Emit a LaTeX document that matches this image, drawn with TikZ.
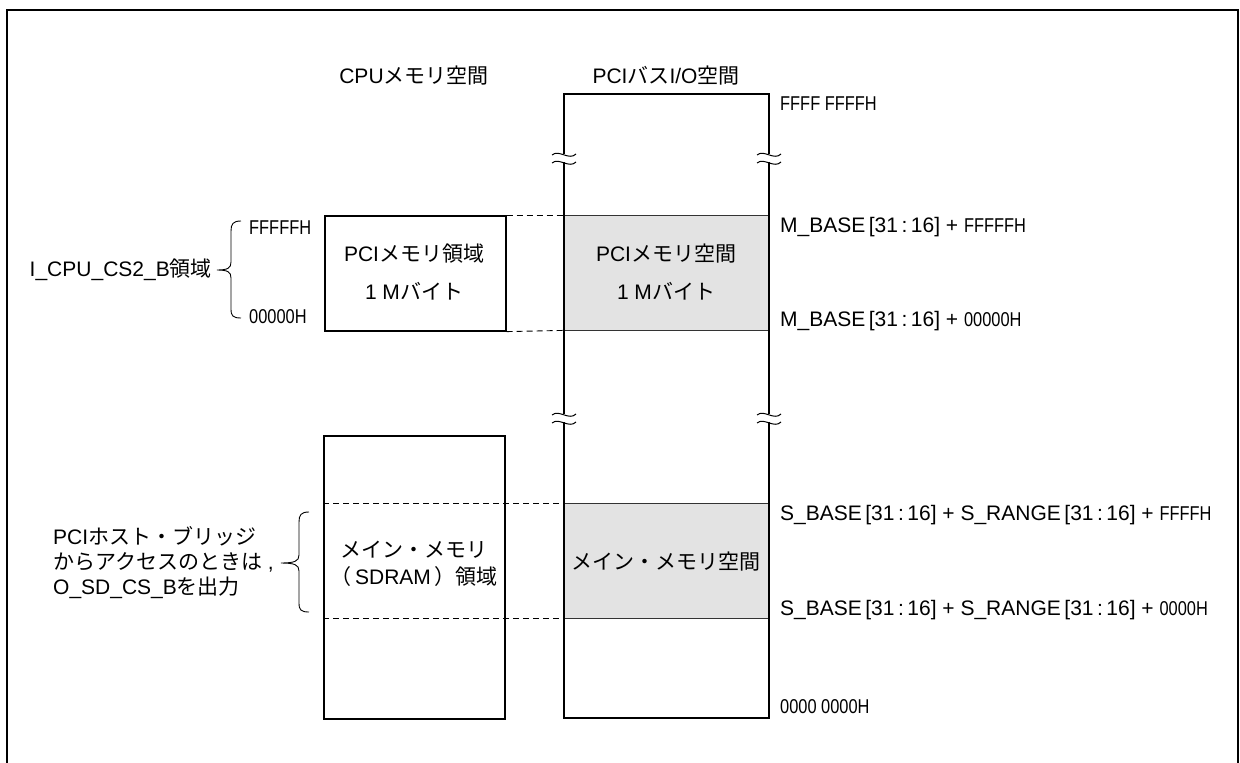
\documentclass[tikz,border=0pt]{standalone}
\usepackage{fontspec}
\setmainfont{Liberation Sans}
\newfontfamily\jpfont{Noto Sans CJK JP}
\newfontfamily\narfont[FakeStretch=0.82]{Liberation Sans}
\newcommand{\jtxt}[1]{{\jpfont #1}}
\newcommand{\hexn}[1]{{\narfont\fontsize{20}{24}\selectfont #1}}
\newcommand{\mygap}{\hspace{3.5pt}}
\begin{document}
\begin{tikzpicture}[x=1pt,y=-1pt]
\tikzset{
 frameline/.style={line width=2pt},
 colline/.style={line width=2pt},
 memblock/.style={draw, line width=1.6pt, inner sep=0pt},
 region/.style={fill=black!11, draw=none, inner sep=0pt},
 regedge/.style={line width=0.9pt, draw=black!80},
 guide/.style={line width=0.9pt, dash pattern=on 6pt off 4pt},
 txt/.style={inner sep=0pt, font=\fontsize{21}{25}\selectfont},
 bracestyle/.style={line width=0.9pt},
 brk/.pic={
   \fill[white] (-3,-4) rectangle (3,4);
   \draw[line width=1pt] (-12,-3) .. controls (-5,-9) and (5,3) .. (12,-4);
   \draw[line width=1pt] (-12,5) .. controls (-5,-1) and (5,11) .. (12,4);
 },
}
\useasboundingbox (0,0) rectangle (1240,763);
\draw[frameline] (7,763) -- (7,10) -- (1238,10) -- (1238,763);

% shaded regions of the PCI space
\node[region, minimum width=205pt, minimum height=115pt, anchor=north west] (pcimem) at (564,215) {};
\node[region, minimum width=205pt, minimum height=115pt, anchor=north west] (mainmem) at (564,503) {};
\draw[regedge] (pcimem.north west) -- (pcimem.north east) (pcimem.south west) -- (pcimem.south east);
\draw[regedge] (mainmem.north west) -- (mainmem.north east) (mainmem.south west) -- (mainmem.south east);

% PCI column
\coordinate (pTL) at (564,94);
\coordinate (pTR) at (769,94);
\coordinate (pBL) at (564,718);
\coordinate (pBR) at (769,718);
\draw[colline] (pBL) -- (pTL) -- (pTR) -- (pBR) -- cycle;
\pic at (564,158) {brk};
\pic at (769,158) {brk};
\pic at (564,418) {brk};
\pic at (769,418) {brk};

% CPU side boxes
\node[memblock, minimum width=181pt, minimum height=115pt, anchor=north west] (cpubox) at (324,215) {};
\node[memblock, minimum width=181pt, minimum height=283pt, anchor=north west] (mainbox) at (323,435) {};

% dashed guides
\draw[guide] (cpubox.north east) -- (pcimem.north west);
\draw[guide] (cpubox.south east) -- (pcimem.south west);
\draw[guide] (mainbox.west |- mainmem.north) -- (mainmem.north west);
\draw[guide] (mainbox.west |- mainmem.south) -- (mainmem.south west);

% titles
\node[txt] (cputitle) at (414,76) {CPU\jtxt{メモリ空間}};
\node[txt] (pcititle) at (666,76) {PCI\jtxt{バス}I/O\jtxt{空間}};

% box texts
\node[txt] (cpu1) at (414,254) {PCI\jtxt{メモリ領域}};
\node[txt] (cpu2) at (414,291) {1 M\jtxt{バイト}};
\node[txt] (pci1) at (666,254) {PCI\jtxt{メモリ空間}};
\node[txt] (pci2) at (666,291) {1 M\jtxt{バイト}};
\node[txt] (main1) at (414,550) {\jtxt{メイン・メモリ}};
\node[txt] (main2) at (414,577) {\jtxt{（}\,SDRAM\,\jtxt{）領域}};
\node[txt] (pci3) at (666,562) {\jtxt{メイン・メモリ空間}};

% address labels on the right
\node[txt, anchor=west] (a1) at (780,104) {\hexn{FFFF FFFFH}};
\node[txt, anchor=west] (a2) at (780,227) {M\_BASE\mygap[31\mygap:\mygap16]\ + \hexn{FFFFFH}};
\node[txt, anchor=west] (a3) at (780,321) {M\_BASE\mygap[31\mygap:\mygap16]\ + \hexn{00000H}};
\node[txt, anchor=west] (a4) at (780,515) {S\_BASE\mygap[31\mygap:\mygap16]\ + S\_RANGE\mygap[31\mygap:\mygap16]\ + \hexn{FFFFH}};
\node[txt, anchor=west] (a5) at (780,610) {S\_BASE\mygap[31\mygap:\mygap16]\ + S\_RANGE\mygap[31\mygap:\mygap16]\ + \hexn{0000H}};
\node[txt, anchor=west] (a6) at (780,707) {\hexn{0000 0000H}};

% left address labels and brace
\node[txt, anchor=west] (l1) at (249,228) {\hexn{FFFFFH}};
\node[txt, anchor=west] (l2) at (249,317) {\hexn{00000H}};
\coordinate (b1top) at (241,221);
\coordinate (b1tip) at (217,270);
\coordinate (b1bot) at (241,318);
\draw[bracestyle] (b1top) .. controls (233,221) and (231,224) .. (231,231) -- (231,262)
  .. controls (231,268) and (228,270) .. (b1tip)
  .. controls (228,270) and (231,272) .. (231,278) -- (231,309)
  .. controls (231,316) and (233,318) .. (b1bot);
\node[txt, anchor=east] (cs2) at (212,270) {I\_CPU\_CS2\_B\jtxt{領域}};

% second brace
\coordinate (b2top) at (309,512);
\coordinate (b2tip) at (281,563);
\coordinate (b2bot) at (309,612);
\draw[bracestyle] (b2top) .. controls (301,512) and (299,515) .. (299,522) -- (299,555)
  .. controls (299,561) and (295,563) .. (b2tip)
  .. controls (295,563) and (299,565) .. (299,571) -- (299,603)
  .. controls (299,610) and (301,612) .. (b2bot);
\node[txt, anchor=west, align=left] (note) at (53,563) {PCI\jtxt{ホスト・ブリッジ}\\\jtxt{からアクセスのときは}\ ,\\O\_SD\_CS\_B\jtxt{を出力}};
\end{tikzpicture}
\end{document}
